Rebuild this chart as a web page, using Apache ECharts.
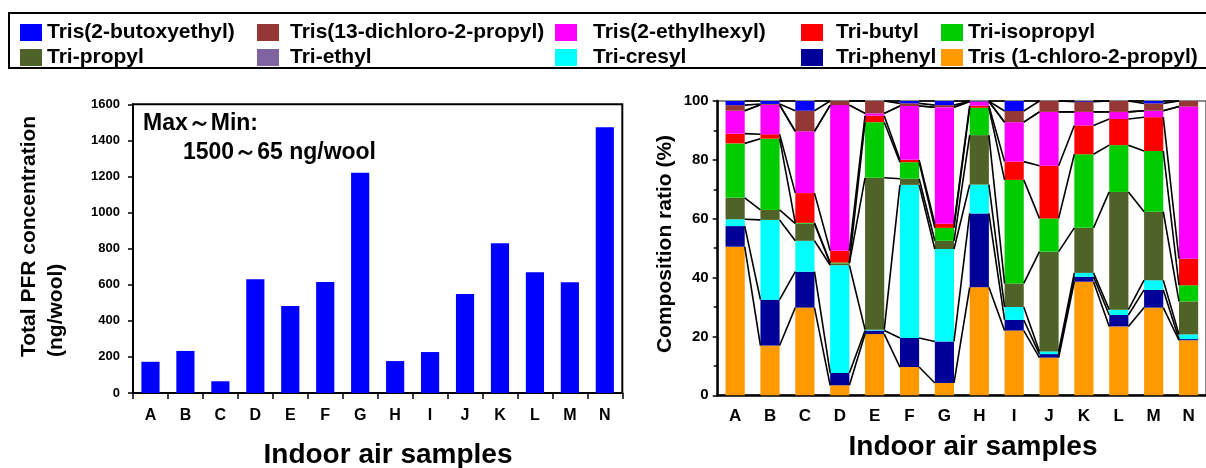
<!DOCTYPE html>
<html><head><meta charset="utf-8">
<script src="https://cdn.jsdelivr.net/npm/echarts@6/dist/echarts.min.js"></script>
<style>html,body{margin:0;padding:0;background:#fff}#c{width:1206px;height:468px}</style>
</head><body><div id="c"></div>
<script>
// ---------- data ----------
const categories = ['A','B','C','D','E','F','G','H','I','J','K','L','M','N'];
const totalPFR = [173, 233, 65, 630, 482, 615, 1221, 177, 227, 549, 830, 669, 614, 1473];

// composition ratio (%) bottom -> top
const chloropropyl   = [50.5,16.9,29.8, 3.4,20.8, 9.6, 4.2,36.7,22.0,12.8,38.6,23.4,29.8,18.7];
const phenyl         = [ 7.0,15.6,12.2, 4.2, 1.2, 9.9,14.1,25.1, 3.6, 1.2, 1.7, 3.9, 6.0, 0.4];
const cresyl         = [ 2.3,27.1,10.5,36.6, 0.3,52.0,31.4, 9.8, 4.4, 0.9, 1.3, 1.8, 3.3, 1.6];
const propyl         = [ 7.3, 3.4, 5.8, 0.6,51.6, 2.1, 2.8,16.8, 8.0,33.9,15.3,40.0,23.3,11.2];
const isopropyl      = [18.5,24.2, 0.3, 0.3,18.9, 5.6, 4.4, 9.3,35.2,11.3,25.0,15.9,20.6, 5.5];
const butyl          = [ 3.3, 1.5,10.1, 4.0, 2.2, 0.8, 1.4, 0.7, 6.2,17.9, 9.8, 8.9,11.5, 9.0];
const ethylhexyl     = [ 7.8,10.0,21.0,49.5, 0.8,18.3,39.6, 1.4,13.4,18.3, 4.6, 2.4, 2.2,51.7];
const ethyl          = [ 0, 0, 0, 0, 0, 0, 0, 0, 0, 0, 0, 0, 0, 0];
const dichloropropyl = [ 1.9, 0.3, 7.0, 1.4, 4.2, 0.9, 0.7, 0.1, 3.8, 3.7, 3.5, 3.7, 2.5, 1.9];
const butoxyethyl    = [ 1.4, 1.0, 3.3, 0.0, 0.0, 0.8, 1.4, 0.1, 3.4, 0.0, 0.2, 0.0, 0.8, 0.0];

const leftTickMax = 1600, leftTickStep = 200;
const rightTickMax = 100, rightTickStep = 20;

// ---------- series definitions ----------
const compSeries = [
  {name:'Tris (1-chloro-2-propyl)', data:chloropropyl, color:'#FF9900'},
  {name:'Tri-phenyl', data:phenyl, color:'#000099'},
  {name:'Tri-cresyl', data:cresyl, color:'#00FFFF'},
  {name:'Tri-propyl', data:propyl, color:'#4F6228'},
  {name:'Tri-isopropyl', data:isopropyl, color:'#00CC00'},
  {name:'Tri-butyl', data:butyl, color:'#FF0000'},
  {name:'Tris(2-ethylhexyl)', data:ethylhexyl, color:'#FF00FF'},
  {name:'Tri-ethyl', data:ethyl, color:'#8064A2'},
  {name:'Tris(13-dichloro-2-propyl)', data:dichloropropyl, color:'#953735'},
  {name:'Tris(2-butoxyethyl)', data:butoxyethyl, color:'#0000FF'}
];

const FONT = "'Liberation Sans', Arial, sans-serif";
const BAR_RATIO = 0.55;

// cumulative tops for connector lines
const nLev = compSeries.length;
const cum = categories.map((_, i) => {
  let s = 0; return compSeries.map(sr => (s += sr.data[i]));
});
const connData = [];
for (let i = 0; i < categories.length - 1; i++) {
  connData.push([i].concat(cum[i], cum[i + 1]));
}

function renderConnectors(params, api) {
  const i = api.value(0);
  const halfW = api.size([1, 0])[0] * BAR_RATIO / 2;
  const children = [];
  for (let k = 0; k < nLev; k++) {
    const a = api.coord([i, api.value(1 + k)]);
    const b = api.coord([i + 1, api.value(1 + nLev + k)]);
    children.push({type:'line', shape:{x1:a[0] + halfW, y1:a[1], x2:b[0] - halfW, y2:b[1]},
      style:{stroke:'#000', lineWidth:1.6}});
  }
  return {type:'group', children};
}

function legendCol(left, names, textPad) {
  return {
    orient:'vertical', left:left, top:22, padding:0, itemGap:4,
    itemWidth:22, itemHeight:17, icon:'rect', selectedMode:false,
    data:names,
    textStyle:{fontFamily:FONT, fontWeight:'bold', fontSize:21, color:'#000', padding:[0,0,0,textPad]}
  };
}

const axisLabelBase = {fontFamily:FONT, fontWeight:'bold', color:'#000'};

const option = {
  animation:false,
  legend:[
    legendCol(20, ['Tris(2-butoxyethyl)', 'Tri-propyl'], 0),
    legendCol(257, ['Tris(13-dichloro-2-propyl)', 'Tri-ethyl'], 6),
    legendCol(555, ['Tris(2-ethylhexyl)', 'Tri-cresyl'], 11),
    legendCol(801, ['Tri-butyl', 'Tri-phenyl'], 8),
    legendCol(941, ['Tri-isopropyl', 'Tris (1-chloro-2-propyl)'], 0)
  ],
  grid:[
    {left:133, top:104.3, width:489.3, height:288.7, show:true, borderColor:'#000', borderWidth:2, backgroundColor:'transparent'},
    {left:717.7, top:101, width:499.8, height:294.3, show:true, borderColor:'#666', borderWidth:1.5, backgroundColor:'transparent'}
  ],
  xAxis:[
    {type:'category', gridIndex:0, data:categories,
     axisLine:{lineStyle:{color:'#000', width:2}},
     axisTick:{show:true, length:6, inside:false, lineStyle:{color:'#000', width:1.5}},
     axisLabel:Object.assign({fontSize:16, margin:15}, axisLabelBase),
     splitLine:{show:false}},
    {type:'category', gridIndex:1, data:categories,
     axisLine:{lineStyle:{color:'#000', width:2.5}},
     axisTick:{show:false},
     axisLabel:Object.assign({fontSize:17, margin:13}, axisLabelBase),
     splitLine:{show:false}}
  ],
  yAxis:[
    {type:'value', gridIndex:0, min:0, max:leftTickMax, interval:leftTickStep,
     axisLine:{show:true, lineStyle:{color:'#000', width:2}},
     axisTick:{show:true, length:5, lineStyle:{color:'#000', width:1.5}},
     axisLabel:Object.assign({fontSize:13, margin:13, formatter:v => String(v)}, axisLabelBase),
     splitLine:{show:false}},
    {type:'value', gridIndex:1, min:0, max:rightTickMax, interval:rightTickStep,
     axisLine:{show:true, lineStyle:{color:'#000', width:2.5}},
     axisTick:{show:true, length:5, lineStyle:{color:'#000', width:1.5}},
     minorTick:{show:true, splitNumber:2, length:4, lineStyle:{color:'#000', width:1.5}},
     axisLabel:Object.assign({fontSize:15, margin:9, formatter:v => String(v)}, axisLabelBase),
     splitLine:{show:false}}
  ],
  series:[
    {name:'Total PFR', type:'bar', xAxisIndex:0, yAxisIndex:0, data:totalPFR, barWidth:'52%',
     itemStyle:{color:'#0000FF'}}
  ].concat(compSeries.map(s => ({
    name:s.name, type:'bar', xAxisIndex:1, yAxisIndex:1, stack:'comp', data:s.data,
    barWidth:(BAR_RATIO*100)+'%', itemStyle:{color:s.color}
  }))).concat([{
    name:'connectors', type:'custom', xAxisIndex:1, yAxisIndex:1, data:connData,
    renderItem:renderConnectors, encode:{x:0, y:1}, z:5, silent:true, clip:false
  }]),
  graphic:[
    {type:'rect', shape:{x:9, y:13, width:1210, height:55}, style:{fill:'none', stroke:'#000', lineWidth:2}, z:-1},
    {type:'text', x:143, y:124, style:{text:'Max～Min:', fontFamily:FONT, fontWeight:'bold', fontSize:23, fill:'#000', align:'left', verticalAlign:'middle'}},
    {type:'text', x:183, y:153, style:{text:'1500～65 ng/wool', fontFamily:FONT, fontWeight:'bold', fontSize:23, fill:'#000', align:'left', verticalAlign:'middle'}},
    {type:'text', x:43, y:357, rotation:Math.PI/2, style:{text:'Total PFR concentration\n(ng/wool)', fontFamily:FONT, fontWeight:'bold', fontSize:21, lineHeight:27, fill:'#000', align:'left', verticalAlign:'middle'}},
    {type:'text', x:665, y:244, rotation:Math.PI/2, style:{text:'Composition ratio (%)', fontFamily:FONT, fontWeight:'bold', fontSize:21, fill:'#000', align:'center', verticalAlign:'middle'}},
    {type:'text', x:388, y:455, style:{text:'Indoor air samples', fontFamily:FONT, fontWeight:'bold', fontSize:28, fill:'#000', align:'center', verticalAlign:'middle'}},
    {type:'text', x:973, y:447, style:{text:'Indoor air samples', fontFamily:FONT, fontWeight:'bold', fontSize:28, fill:'#000', align:'center', verticalAlign:'middle'}}
  ]
};

const chart = echarts.init(document.getElementById('c'), null, {renderer:'canvas'});
chart.setOption(option);
</script>
</body></html>
